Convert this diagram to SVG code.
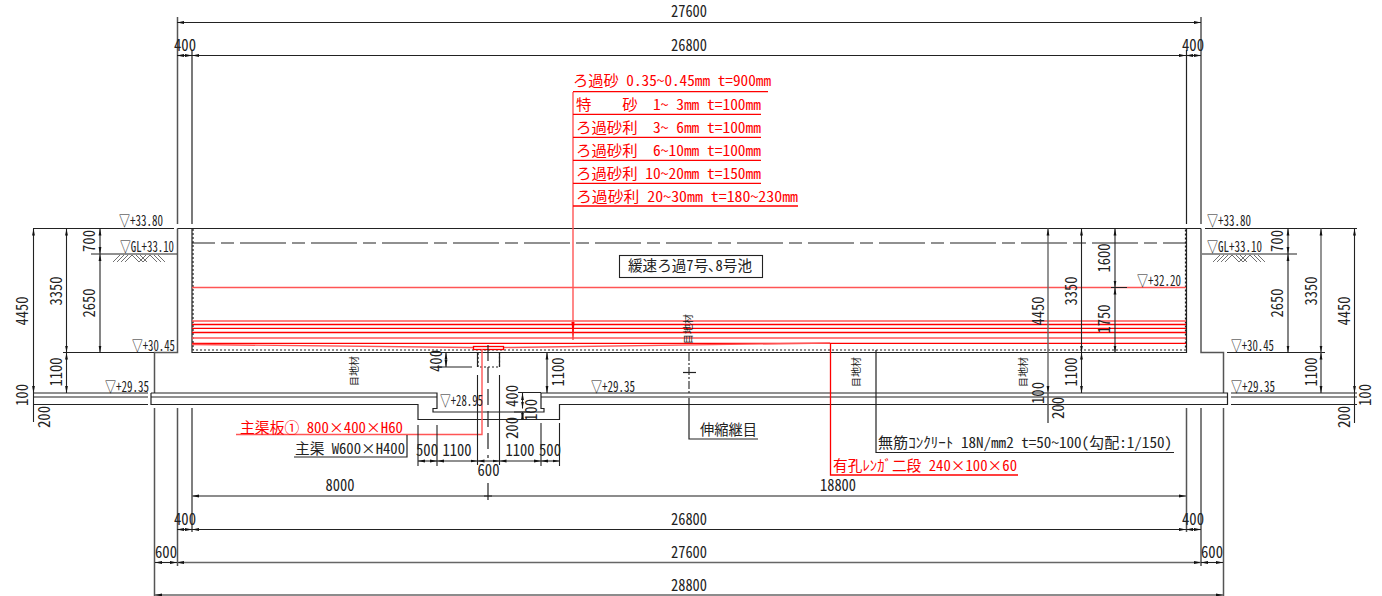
<svg xmlns="http://www.w3.org/2000/svg" width="1382" height="596" viewBox="0 0 1382 596">
<style>
text{font-family:"Noto Sans CJK JP","Liberation Sans",sans-serif;font-size:16px;fill:#222;font-feature-settings:"hwid";white-space:pre}
.m{text-anchor:middle}
.j{font-size:14.500px}
.r{fill:#f00}
.s{font-size:14.500px}
.v{font-size:10px}
line,path,rect,polyline{fill:none}
.k{stroke:#222;stroke-width:1.200}
.g{stroke:#555;stroke-width:1.500}
.t{stroke:#222;stroke-width:1.100}
.d{stroke:#222;stroke-width:1.100;marker-start:url(#a);marker-end:url(#a)}
.dg{stroke:#666;stroke-width:1.400;marker-start:url(#a);marker-end:url(#a)}
.red{stroke:#f00;stroke-width:1.300}
.lr{stroke:#f55;stroke-width:1.400}
.dot{stroke:#222;stroke-width:1.200;stroke-dasharray:2 2}
.h{stroke:#333;stroke-width:.7}
</style>
<defs>
<marker id="a" markerUnits="userSpaceOnUse" markerWidth="8" markerHeight="6" refX="7" refY="3" orient="auto-start-reverse"><path d="M7 3L0 1.600V4.400z" style="fill:#111"/></marker>
<marker id="ar" markerUnits="userSpaceOnUse" markerWidth="5" markerHeight="20" refX="2.500" refY="19" orient="0"><path d="M2.500 19L1 1H4z" style="fill:#f00"/></marker>
<path id="hatch" class="h" d="M0 7L7 0M4 7L11 0M8 7L15 0M12 7L19 0M19 0L26 7M23 0L30 7M27 0L34 7M26 7L33 0M30 7L37 0M37 0L44 7M41 0L48 7M45 0L52 7"/>
</defs>
<g id="structure">
<path class="g" d="M177.500 17V224M177.500 228.500V352.500H154.500V393M1201 17V224M1201 228.500V352.500H1223.500V393"/>
<path class="k" d="M192 50V224M1186.500 50V224"/>
<path class="k" d="M177.500 228.500H1201M192 228.500V352.500H1186.500V228.500"/>
<path class="g" d="M154.500 408V596M177.500 408V566M192 408V532M1186.500 408V532M1201 408V566M1223.500 408V596"/>
<path class="k" d="M151 393V404.500H418V419.500H559.500V404.500H1227.500V393H541V408.500H544V412H433V408.500H437V393H151"/>
<path class="t" d="M151 397H437M541 397H1227.500"/>
<path class="t" d="M33 393H148M33 397H148M33 404.500H148M1231 393H1357M1231 397H1357M1231 404.500H1357"/>
<path class="k" d="M33 228.500H174M1205 228.500H1357M91 254H177M1202 254H1297M63 352.500H154M1227 352.500H1325"/>
<line class="t" x1="192" y1="243" x2="1186" y2="243" stroke-dasharray="46 6 13 6" stroke-dashoffset="23"/>
<path class="dot" d="M193 229V350H1185.500V229"/>
<path class="dot" d="M478 353V367H499.500V353"/>
<path class="k" d="M477.500 353V367M499.500 353V367"/>
<use href="#hatch" x="113" y="255"/>
<use href="#hatch" x="1213" y="255"/>
</g>
<g id="filter-layers">
<path class="lr" d="M192 287.500H1186M192 321H1186M192 338H1186"/>
<path class="red" d="M192 324.500H1186M192 328.300H1186M192 332.500H1186M192 343.300H1186"/>
<path class="lr" d="M192 344.500L473.500 347.500M503.500 347.500L830 343"/>
<rect class="red" x="473.500" y="346.500" width="30" height="3"/>
</g>
<g id="connectors">
<line class="lr" x1="573" y1="92" x2="573" y2="340" marker-end="url(#ar)"/>
<path class="red" d="M573 91.700H768M573 114.300H761M573 137.300H761M573 160.300H761M573 183.300H761M573 206H798"/>
<path class="lr" d="M236 434.500H482V349"/>
<path class="k" d="M294 457H407V435"/>
<path class="k" d="M689 398V439H758"/>
<path class="k" d="M876 350V452.500H1174"/>
<path class="red" d="M830.500 343V475H1018"/>
<line class="t" x1="689" y1="353" x2="689" y2="393" stroke-dasharray="8 2 2 2"/>
<path class="k" d="M683 372.500H696"/>
<line class="k" x1="488" y1="345" x2="488" y2="458" stroke-dasharray="16 6"/>
</g>
<g id="dimensions">
<line class="d" x1="177" y1="22.500" x2="1201" y2="22.500"/>
<line class="d" x1="192" y1="55.500" x2="1186" y2="55.500"/>
<line class="d" x1="177" y1="55.500" x2="192" y2="55.500"/>
<line class="d" x1="1186" y1="55.500" x2="1201" y2="55.500"/>
<line class="dg" x1="192" y1="496" x2="1186" y2="496"/>
<path class="k" d="M488 483V500M484 496H492"/>
<line class="d" x1="192" y1="529.500" x2="1186" y2="529.500"/>
<line class="d" x1="177" y1="529.500" x2="192" y2="529.500"/>
<line class="d" x1="1186" y1="529.500" x2="1201" y2="529.500"/>
<line class="dg" x1="177" y1="562.500" x2="1201" y2="562.500"/>
<line class="d" x1="155" y1="562.500" x2="177" y2="562.500"/>
<line class="d" x1="1201" y1="562.500" x2="1223" y2="562.500"/>
<line class="dg" x1="155" y1="595" x2="1223" y2="595"/>
<line class="d" x1="33.500" y1="228.500" x2="33.500" y2="393"/>
<line class="t" x1="33.500" y1="393" x2="33.500" y2="422"/>
<line class="d" x1="66.500" y1="228.500" x2="66.500" y2="352.500"/>
<line class="d" x1="66.500" y1="352.500" x2="66.500" y2="393"/>
<line class="d" x1="100" y1="228.500" x2="100" y2="254"/>
<line class="d" x1="100" y1="254" x2="100" y2="352.500"/>
<line class="dg" x1="1048" y1="228.500" x2="1048" y2="393"/>
<line class="g" x1="1048" y1="393" x2="1048" y2="423"/>
<line class="d" x1="1081.500" y1="228.500" x2="1081.500" y2="352.500"/>
<line class="d" x1="1081.500" y1="352.500" x2="1081.500" y2="393"/>
<line class="d" x1="1115" y1="228.500" x2="1115" y2="287.500"/>
<line class="d" x1="1115" y1="287.500" x2="1115" y2="352.500"/>
<path class="k" d="M1111 287.500H1127M1082 352.500H1127"/>
<line class="d" x1="1288" y1="228.500" x2="1288" y2="254"/>
<line class="d" x1="1288" y1="254" x2="1288" y2="352.500"/>
<line class="dg" x1="1321" y1="228.500" x2="1321" y2="352.500"/>
<line class="d" x1="1321" y1="352.500" x2="1321" y2="393"/>
<line class="d" x1="1354.500" y1="228.500" x2="1354.500" y2="393"/>
<line class="t" x1="1354.500" y1="393" x2="1354.500" y2="423"/>
<path class="t" d="M437 367H472M477.500 375V465M499.500 375V465M418 425V466M437 425V466M541 423V466M559.500 423V466M518 392.500H541M514 412H530"/>
<line class="d" x1="446" y1="352.500" x2="446" y2="367"/>
<line class="d" x1="547" y1="352.500" x2="547" y2="393"/>
<line class="d" x1="522.500" y1="393" x2="522.500" y2="408.500"/>
<line class="d" x1="522.500" y1="412" x2="522.500" y2="420"/>
<line class="d" x1="418" y1="461" x2="437" y2="461"/>
<line class="d" x1="437" y1="461" x2="477.500" y2="461"/>
<line class="d" x1="477.500" y1="461" x2="499.500" y2="461"/>
<line class="d" x1="499.500" y1="461" x2="541" y2="461"/>
<line class="d" x1="541" y1="461" x2="559.500" y2="461"/>
</g>
<g id="dimension-labels">
<text class="m" x="689" y="17" textLength="36" lengthAdjust="spacingAndGlyphs">27600</text>
<text class="m" x="689" y="51" textLength="36" lengthAdjust="spacingAndGlyphs">26800</text>
<text class="m" x="185" y="51" textLength="22" lengthAdjust="spacingAndGlyphs">400</text>
<text class="m" x="1193" y="51" textLength="22" lengthAdjust="spacingAndGlyphs">400</text>
<text class="m" x="340" y="491" textLength="29" lengthAdjust="spacingAndGlyphs">8000</text>
<text class="m" x="838" y="491" textLength="36" lengthAdjust="spacingAndGlyphs">18800</text>
<text class="m" x="689" y="525" textLength="36" lengthAdjust="spacingAndGlyphs">26800</text>
<text class="m" x="185" y="525" textLength="22" lengthAdjust="spacingAndGlyphs">400</text>
<text class="m" x="1193" y="525" textLength="22" lengthAdjust="spacingAndGlyphs">400</text>
<text class="m" x="689" y="558" textLength="36" lengthAdjust="spacingAndGlyphs">27600</text>
<text class="m" x="166" y="558" textLength="22" lengthAdjust="spacingAndGlyphs">600</text>
<text class="m" x="1212" y="558" textLength="22" lengthAdjust="spacingAndGlyphs">600</text>
<text class="m" x="689" y="591" textLength="36" lengthAdjust="spacingAndGlyphs">28800</text>
<text class="m" transform="translate(27.500 311) rotate(-90)" textLength="29" lengthAdjust="spacingAndGlyphs">4450</text>
<text class="m" transform="translate(27.500 395) rotate(-90)" textLength="22" lengthAdjust="spacingAndGlyphs">100</text>
<text class="m" transform="translate(49.500 417) rotate(-90)" textLength="22" lengthAdjust="spacingAndGlyphs">200</text>
<text class="m" transform="translate(61.500 291) rotate(-90)" textLength="29" lengthAdjust="spacingAndGlyphs">3350</text>
<text class="m" transform="translate(61.500 372) rotate(-90)" textLength="29" lengthAdjust="spacingAndGlyphs">1100</text>
<text class="m" transform="translate(94.500 241) rotate(-90)" textLength="22" lengthAdjust="spacingAndGlyphs">700</text>
<text class="m" transform="translate(94.500 303) rotate(-90)" textLength="29" lengthAdjust="spacingAndGlyphs">2650</text>
<text class="m" transform="translate(1043.500 311) rotate(-90)" textLength="29" lengthAdjust="spacingAndGlyphs">4450</text>
<text class="m" transform="translate(1043.500 393) rotate(-90)" textLength="22" lengthAdjust="spacingAndGlyphs">100</text>
<text class="m" transform="translate(1063.500 408) rotate(-90)" textLength="22" lengthAdjust="spacingAndGlyphs">200</text>
<text class="m" transform="translate(1076.500 291) rotate(-90)" textLength="29" lengthAdjust="spacingAndGlyphs">3350</text>
<text class="m" transform="translate(1076.500 372) rotate(-90)" textLength="29" lengthAdjust="spacingAndGlyphs">1100</text>
<text class="m" transform="translate(1109.500 258) rotate(-90)" textLength="29" lengthAdjust="spacingAndGlyphs">1600</text>
<text class="m" transform="translate(1109.500 319) rotate(-90)" textLength="29" lengthAdjust="spacingAndGlyphs">1750</text>
<text class="m" transform="translate(1282.500 241) rotate(-90)" textLength="22" lengthAdjust="spacingAndGlyphs">700</text>
<text class="m" transform="translate(1282.500 303) rotate(-90)" textLength="29" lengthAdjust="spacingAndGlyphs">2650</text>
<text class="m" transform="translate(1316.500 291) rotate(-90)" textLength="29" lengthAdjust="spacingAndGlyphs">3350</text>
<text class="m" transform="translate(1316.500 372) rotate(-90)" textLength="29" lengthAdjust="spacingAndGlyphs">1100</text>
<text class="m" transform="translate(1349.500 311) rotate(-90)" textLength="29" lengthAdjust="spacingAndGlyphs">4450</text>
<text class="m" transform="translate(1370.500 395) rotate(-90)" textLength="22" lengthAdjust="spacingAndGlyphs">100</text>
<text class="m" transform="translate(1349.500 417) rotate(-90)" textLength="22" lengthAdjust="spacingAndGlyphs">200</text>
<text class="m" transform="translate(441.500 361) rotate(-90)" textLength="22" lengthAdjust="spacingAndGlyphs">400</text>
<text class="m" transform="translate(563.500 372) rotate(-90)" textLength="29" lengthAdjust="spacingAndGlyphs">1100</text>
<text class="m" transform="translate(517.500 396) rotate(-90)" textLength="22" lengthAdjust="spacingAndGlyphs">400</text>
<text class="m" transform="translate(537 410) rotate(-90)" textLength="22" lengthAdjust="spacingAndGlyphs">100</text>
<text class="m" transform="translate(517.500 428) rotate(-90)" textLength="22" lengthAdjust="spacingAndGlyphs">200</text>
<text class="m" x="427" y="456" textLength="22" lengthAdjust="spacingAndGlyphs">500</text>
<text class="m" x="457" y="456" textLength="29" lengthAdjust="spacingAndGlyphs">1100</text>
<text class="m" x="520" y="456" textLength="29" lengthAdjust="spacingAndGlyphs">1100</text>
<text class="m" x="550" y="456" textLength="22" lengthAdjust="spacingAndGlyphs">500</text>
<text class="m" x="488.500" y="476" textLength="22" lengthAdjust="spacingAndGlyphs">600</text>
</g>
<g id="levels">
<text class="s" x="119" y="226" textLength="44" lengthAdjust="spacingAndGlyphs">▽+33.80</text>
<text class="s" x="120" y="252" textLength="54" lengthAdjust="spacingAndGlyphs">▽GL+33.10</text>
<text class="s" x="132" y="351" textLength="43" lengthAdjust="spacingAndGlyphs">▽+30.45</text>
<text class="s" x="105" y="392" textLength="44" lengthAdjust="spacingAndGlyphs">▽+29.35</text>
<text class="s" x="440" y="406" textLength="43" lengthAdjust="spacingAndGlyphs">▽+28.95</text>
<text class="s" x="591" y="392" textLength="44" lengthAdjust="spacingAndGlyphs">▽+29.35</text>
<text class="s" x="1137" y="286" textLength="44" lengthAdjust="spacingAndGlyphs">▽+32.20</text>
<text class="s" x="1207" y="226" textLength="44" lengthAdjust="spacingAndGlyphs">▽+33.80</text>
<text class="s" x="1207" y="252" textLength="55" lengthAdjust="spacingAndGlyphs">▽GL+33.10</text>
<text class="s" x="1231" y="351" textLength="43" lengthAdjust="spacingAndGlyphs">▽+30.45</text>
<text class="s" x="1231" y="392" textLength="44" lengthAdjust="spacingAndGlyphs">▽+29.35</text>
</g>
<g id="joint-labels">
<text class="v m" transform="translate(358 371) rotate(-90)" textLength="30" lengthAdjust="spacingAndGlyphs">目地材</text>
<text class="v m" transform="translate(692 329) rotate(-90)" textLength="30" lengthAdjust="spacingAndGlyphs">目地材</text>
<text class="v m" transform="translate(860 372) rotate(-90)" textLength="30" lengthAdjust="spacingAndGlyphs">目地材</text>
<text class="v m" transform="translate(1027 372) rotate(-90)" textLength="30" lengthAdjust="spacingAndGlyphs">目地材</text>
</g>
<g id="layer-labels">
<text class="j r" x="573" y="86" textLength="198" lengthAdjust="spacingAndGlyphs">ろ過砂 0.35〜0.45mm t=900mm</text>
<text class="j r" x="576" y="110" textLength="185" lengthAdjust="spacingAndGlyphs">特    砂  1〜 3mm t=100mm</text>
<text class="j r" x="576" y="133" textLength="185" lengthAdjust="spacingAndGlyphs">ろ過砂利  3〜 6mm t=100mm</text>
<text class="j r" x="576" y="156" textLength="185" lengthAdjust="spacingAndGlyphs">ろ過砂利  6〜10mm t=100mm</text>
<text class="j r" x="576" y="179" textLength="185" lengthAdjust="spacingAndGlyphs">ろ過砂利 10〜20mm t=150mm</text>
<text class="j r" x="576" y="202" textLength="222" lengthAdjust="spacingAndGlyphs">ろ過砂利 20〜30mm t=180〜230mm</text>
</g>
<g id="pool-title">
<rect class="t" x="619.500" y="255.500" width="143" height="22"/>
<text class="j" x="628" y="271" textLength="124" lengthAdjust="spacingAndGlyphs">緩速ろ過7号､8号池</text>
</g>
<g id="callouts">
<text class="j" x="700" y="435" textLength="57" lengthAdjust="spacingAndGlyphs">伸縮継目</text>
<text class="j" x="878" y="448" textLength="294" lengthAdjust="spacingAndGlyphs">無筋ｺﾝｸﾘｰﾄ 18N/mm2 t=50〜100(勾配:1/150)</text>
<text class="j r" x="833" y="471" textLength="184" lengthAdjust="spacingAndGlyphs">有孔ﾚﾝｶﾞ二段 240×100×60</text>
<text class="j r" x="240" y="433" textLength="163" lengthAdjust="spacingAndGlyphs">主渠板① 800×400×H60</text>
<text class="j" x="295" y="454" textLength="110" lengthAdjust="spacingAndGlyphs">主渠 W600×H400</text>
</g>
</svg>
